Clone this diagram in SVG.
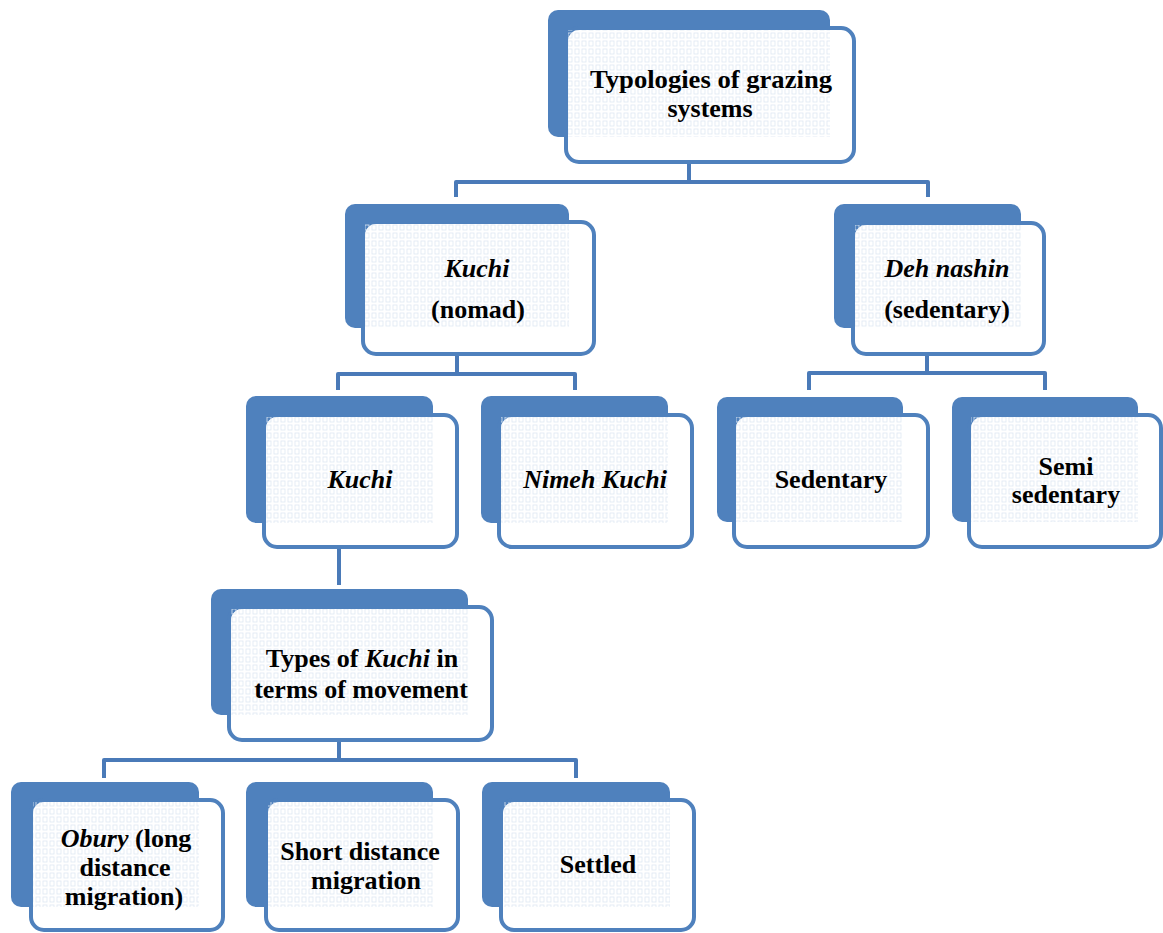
<svg xmlns="http://www.w3.org/2000/svg" width="1163" height="933" viewBox="0 0 1163 933" font-family="'Liberation Serif', 'Times New Roman', 'DejaVu Serif', serif">
<style>
.back{fill:#4f81bd;}
.front{fill:#ffffff;stroke:#4f81bd;stroke-width:4;}
.tex{fill:url(#tex);}
.conn{fill:none;stroke:#4a7ab8;stroke-width:4;stroke-linejoin:round;stroke-linecap:butt;}
.t{font-family:'Liberation Serif', 'Times New Roman', serif;font-weight:bold;font-size:26px;fill:#000;text-anchor:middle;}
.i{font-style:italic;}
</style>
<defs>
<pattern id="tex" width="7" height="8" patternUnits="userSpaceOnUse">
<rect x="1" y="1" width="4" height="5" fill="none" stroke="#dfe7f2" stroke-width="0.8"/>
</pattern>
</defs>
<rect width="1163" height="933" fill="#ffffff"/>
<g id="connectors">
<path class="conn" d="M689 163 V182 M456 197 V182 H928 V197"/>
<path class="conn" d="M457 355 V374 M338 390 V374 H575 V390"/>
<path class="conn" d="M927 355 V373 M809 390 V373 H1045 V390"/>
<path class="conn" d="M339 548 V585"/>
<path class="conn" d="M339 741 V760 M104 778 V760 H576 V778"/>
</g>
<g id="n-top">
<rect class="back" x="548" y="10" width="282" height="127" rx="10"/>
<rect class="front" x="566" y="28" width="288" height="134" rx="13"/>
<rect class="tex" x="568" y="30" width="262" height="107"/>
<text class="t" x="711" y="88" textLength="242" lengthAdjust="spacingAndGlyphs">Typologies  of grazing</text>
<text class="t" x="710" y="117">systems</text>
</g>
<g id="n-kuchi-nomad">
<rect class="back" x="345" y="204" width="224" height="124" rx="10"/>
<rect class="front" x="363" y="222" width="231" height="132" rx="13"/>
<rect class="tex" x="365" y="224" width="204" height="104"/>
<text class="t i" x="477" y="277">Kuchi</text>
<text class="t" x="478" y="318">(nomad)</text>
</g>
<g id="n-deh-nashin">
<rect class="back" x="834" y="204" width="187" height="124" rx="10"/>
<rect class="front" x="853" y="223" width="191" height="131" rx="13"/>
<rect class="tex" x="855" y="225" width="166" height="103"/>
<text class="t i" x="947" y="277">Deh nashin</text>
<text class="t" x="947" y="318">(sedentary)</text>
</g>
<g id="n-kuchi">
<rect class="back" x="246" y="396" width="187" height="127" rx="10"/>
<rect class="front" x="264" y="415" width="193" height="132" rx="13"/>
<rect class="tex" x="266" y="417" width="167" height="106"/>
<text class="t i" x="360" y="488">Kuchi</text>
</g>
<g id="n-nimeh-kuchi">
<rect class="back" x="481" y="396" width="187" height="127" rx="10"/>
<rect class="front" x="499" y="415" width="193" height="132" rx="13"/>
<rect class="tex" x="501" y="417" width="167" height="106"/>
<text class="t i" x="595" y="488">Nimeh Kuchi</text>
</g>
<g id="n-sedentary">
<rect class="back" x="717" y="397" width="186" height="125" rx="10"/>
<rect class="front" x="734" y="415" width="194" height="132" rx="13"/>
<rect class="tex" x="736" y="417" width="167" height="105"/>
<text class="t" x="831" y="488">Sedentary</text>
</g>
<g id="n-semi-sedentary">
<rect class="back" x="952" y="397" width="186" height="125" rx="10"/>
<rect class="front" x="969" y="415" width="192" height="132" rx="13"/>
<rect class="tex" x="971" y="417" width="167" height="105"/>
<text class="t" x="1066" y="475">Semi</text>
<text class="t" x="1066" y="503">sedentary</text>
</g>
<g id="n-types">
<rect class="back" x="211" y="589" width="257" height="126" rx="10"/>
<rect class="front" x="229" y="607" width="263" height="133" rx="13"/>
<rect class="tex" x="231" y="609" width="237" height="106"/>
<text class="t" x="362" y="667">Types of <tspan class="i">Kuchi</tspan> in</text>
<text class="t" x="361" y="698">terms of movement</text>
</g>
<g id="n-obury">
<rect class="back" x="11" y="782" width="188" height="125" rx="10"/>
<rect class="front" x="31" y="800" width="192" height="130" rx="13"/>
<rect class="tex" x="33" y="802" width="166" height="105"/>
<text class="t" x="126" y="847"><tspan class="i">Obury</tspan> (long</text>
<text class="t" x="125" y="876">distance</text>
<text class="t" x="124" y="905">migration)</text>
</g>
<g id="n-short">
<rect class="back" x="246" y="782" width="187" height="125" rx="10"/>
<rect class="front" x="266" y="800" width="192" height="130" rx="13"/>
<rect class="tex" x="268" y="802" width="165" height="105"/>
<text class="t" x="360" y="860">Short distance</text>
<text class="t" x="366" y="889">migration</text>
</g>
<g id="n-settled">
<rect class="back" x="482" y="782" width="188" height="125" rx="10"/>
<rect class="front" x="501" y="800" width="193" height="130" rx="13"/>
<rect class="tex" x="503" y="802" width="167" height="105"/>
<text class="t" x="598" y="873">Settled</text>
</g>
</svg>
